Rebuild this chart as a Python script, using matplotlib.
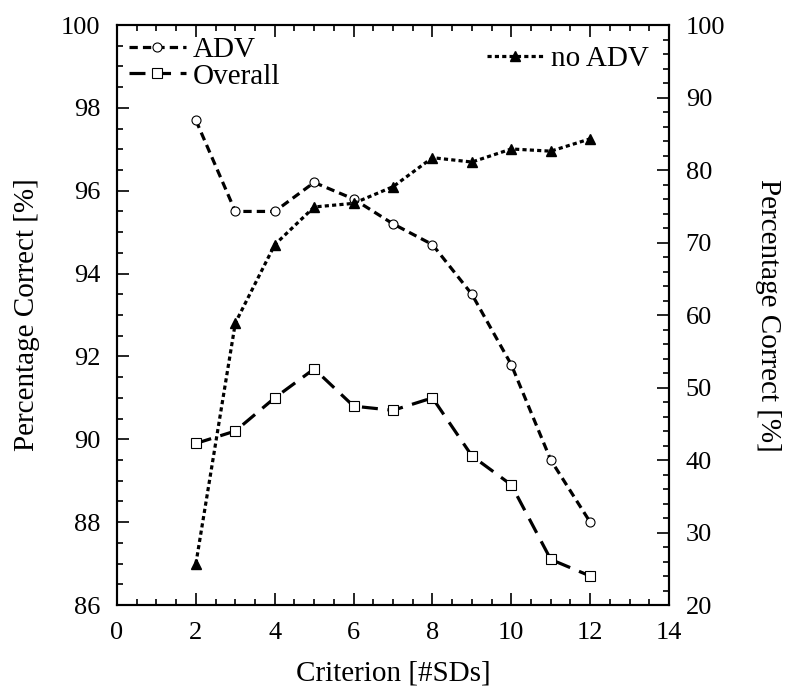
import numpy as np
import matplotlib
matplotlib.use('Agg')
import matplotlib.pyplot as plt
from matplotlib.ticker import MultipleLocator

plt.rcParams['font.family'] = ['Liberation Serif', 'DejaVu Serif']

criterion = [2, 3, 4, 5, 6, 7, 8, 9, 10, 11, 12]
adv = [97.7, 95.5, 95.5, 96.2, 95.8, 95.2, 94.7, 93.5, 91.8, 89.5, 88.0]
overall = [89.9, 90.2, 91.0, 91.7, 90.8, 90.7, 91.0, 89.6, 88.9, 87.1, 86.7]
no_adv = [25.7, 58.9, 69.7, 74.9, 75.4, 77.7, 81.7, 81.1, 82.9, 82.6, 84.3]

fig = plt.figure(figsize=(7.86, 6.89), dpi=100)
ax = fig.add_axes([0.1489, 0.1219, 0.7023, 0.8418])
ax2 = ax.twinx()

l1, = ax.plot(criterion, adv, color='black', lw=2.3, dashes=(2.6, 1.6),
              marker='o', ms=6.5, mfc='white', mec='black', mew=0.8, label='ADV')
l2, = ax.plot(criterion, overall, color='black', lw=2.3, dashes=(5.0, 3.0),
              marker='s', ms=7.5, mfc='white', mec='black', mew=0.8, label='Overall')
l3, = ax2.plot(criterion, no_adv, color='black', lw=2.3, dashes=(1.3, 1.0),
               marker='^', ms=7, mfc='black', mec='black', label='no ADV')

ax.set_xlim(0, 14)
ax.set_ylim(86, 100)
ax2.set_ylim(20, 100)

ax.xaxis.set_major_locator(MultipleLocator(2))
ax.xaxis.set_minor_locator(MultipleLocator(0.5))
ax.yaxis.set_major_locator(MultipleLocator(2))
ax.yaxis.set_minor_locator(MultipleLocator(0.5))
ax2.yaxis.set_major_locator(MultipleLocator(10))
ax2.yaxis.set_minor_locator(MultipleLocator(2))

ax.tick_params(which='both', direction='in', top=True, labelsize=19, width=1.2, pad=12)
ax.tick_params(which='major', length=8.5)
ax.tick_params(which='minor', length=4.5)
ax2.tick_params(which='both', direction='in', labelsize=19, width=1.2, pad=12)
ax2.tick_params(which='major', length=8.5)
ax2.tick_params(which='minor', length=4.5)

for a in (ax, ax2):
    for s in a.spines.values():
        s.set_linewidth(1.5)

ax.set_xlabel('Criterion [#SDs]', fontsize=21, labelpad=12)
ax.set_ylabel('Percentage Correct [%]', fontsize=21, labelpad=15)
ax2.set_ylabel('Percentage Correct [%]', fontsize=21, rotation=270, labelpad=40)

ax.legend(handles=[l1, l2], loc='upper left', fontsize=21, frameon=False,
          handlelength=1.95, handletextpad=0.25, borderaxespad=0.1,
          labelspacing=0.0, borderpad=0.3)
ax2.legend(handles=[l3], loc='upper right', fontsize=21, frameon=False,
           handlelength=1.95, handletextpad=0.25, borderaxespad=0.1, borderpad=0.6)

fig.savefig('out.png', dpi=100)
